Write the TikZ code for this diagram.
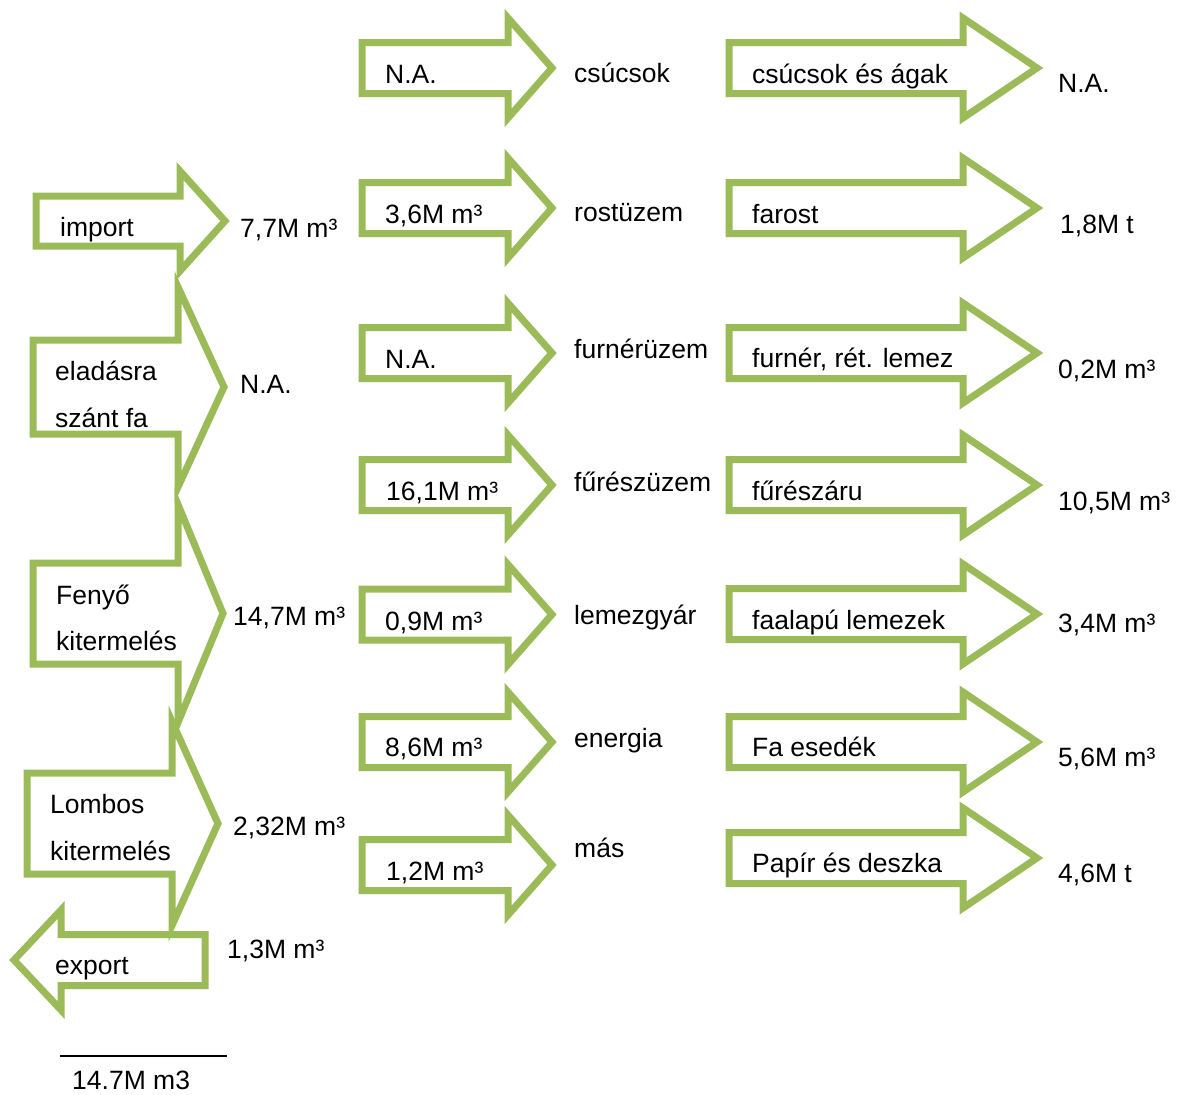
\documentclass[tikz,border=0pt]{standalone}
\usepackage{fontspec}
\setmainfont{Liberation Sans}
\definecolor{leaf}{HTML}{9BBB59}
\tikzset{
  blk/.style={draw=leaf, line width=7pt, line join=miter, miter limit=10},
  lbl/.style={anchor=base west, inner sep=0pt, text=black, font=\fontsize{26.5}{30}\selectfont},
  scalebar/.style={draw=black, line width=1.6pt},
}
% #1 body start x, #2 notch x, #3 tip x, #4 centre y, #5 body half height, #6 head half height
\newcommand\blockarrow[6]{%
  \draw[blk] (#1,#4-#5) -- (#2,#4-#5) -- (#2,#4-#6) -- (#3,#4) -- (#2,#4+#6)
    -- (#2,#4+#5) -- (#1,#4+#5) -- cycle;}
\begin{document}
\begin{tikzpicture}[x=1pt,y=-1pt]
\useasboundingbox (0,0) rectangle (1179,1095);
% ---------- left column
\blockarrow{36}{180}{225}{221}{25}{50}
\blockarrow{33}{178}{224}{387}{47}{100}
\blockarrow{33}{178}{223}{613.5}{50.5}{109}
\blockarrow{27}{172}{218}{823.5}{50.5}{102}
\blockarrow{205}{61}{14}{960}{25.5}{50}
% ---------- middle column
\foreach \yc in {68,208,353,485,614.5,742,865}
  {\blockarrow{362}{508}{552}{\yc}{25.5}{50}}
% ---------- right column
\foreach \yc in {68,208,353,485,614,742,858}
  {\blockarrow{729}{963}{1037}{\yc}{25.5}{50}}
% ---------- left texts
\node[lbl] (import) at (60,236) {import};
\node[lbl] (vimport) at (240,237) {7,7M m³};
\node[lbl] (elad1) at (55,380) {eladásra};
\node[lbl] (elad2) at (55,427) {szánt fa};
\node[lbl] (velad) at (240,393) {N.A.};
\node[lbl] (feny1) at (56,604) {Fenyő};
\node[lbl] (feny2) at (56,650) {kitermelés};
\node[lbl] (vfeny) at (233,625) {14,7M m³};
\node[lbl] (lomb1) at (50,813) {Lombos};
\node[lbl] (lomb2) at (50,860) {kitermelés};
\node[lbl] (vlomb) at (233,835) {2,32M m³};
\node[lbl] (export) at (55,974) {export};
\node[lbl] (vexport) at (227,958) {1,3M m³};
% ---------- scale
\coordinate (sa) at (60,1056);
\coordinate (sb) at (227,1056);
\draw[scalebar] (sa) -- (sb);
\node[lbl] (scale) at (72,1089) {14.7M m3};
% ---------- middle texts
\node[lbl] (m1) at (385,83) {N.A.};
\node[lbl] (p1) at (574,82) {csúcsok};
\node[lbl] (m2) at (385,223) {3,6M m³};
\node[lbl] (p2) at (574,221) {rostüzem};
\node[lbl] (m3) at (385,368) {N.A.};
\node[lbl] (p3) at (574,358) {furnérüzem};
\node[lbl] (m4) at (386,500) {16,1M m³};
\node[lbl] (p4) at (574,491) {fűrészüzem};
\node[lbl] (m5) at (385,630) {0,9M m³};
\node[lbl] (p5) at (574,624) {lemezgyár};
\node[lbl] (m6) at (385,756) {8,6M m³};
\node[lbl] (p6) at (574,747) {energia};
\node[lbl] (m7) at (386,880) {1,2M m³};
\node[lbl] (p7) at (574,857) {más};
% ---------- right texts
\node[lbl] (r1) at (752,83) {csúcsok és ágak};
\node[lbl] (v1) at (1058,92) {N.A.};
\node[lbl] (r2) at (752,223) {farost};
\node[lbl] (v2) at (1060,233) {1,8M t};
\node[lbl] (r3) at (752,367) {furnér, rét. lemez};
\node[lbl] (v3) at (1058,378) {0,2M m³};
\node[lbl] (r4) at (752,500) {fűrészáru};
\node[lbl] (v4) at (1058,510) {10,5M m³};
\node[lbl] (r5) at (752,629) {faalapú lemezek};
\node[lbl] (v5) at (1058,632) {3,4M m³};
\node[lbl] (r6) at (752,756) {Fa esedék};
\node[lbl] (v6) at (1058,766) {5,6M m³};
\node[lbl] (r7) at (752,872) {Papír és deszka};
\node[lbl] (v7) at (1058,882) {4,6M t};
\end{tikzpicture}
\end{document}
